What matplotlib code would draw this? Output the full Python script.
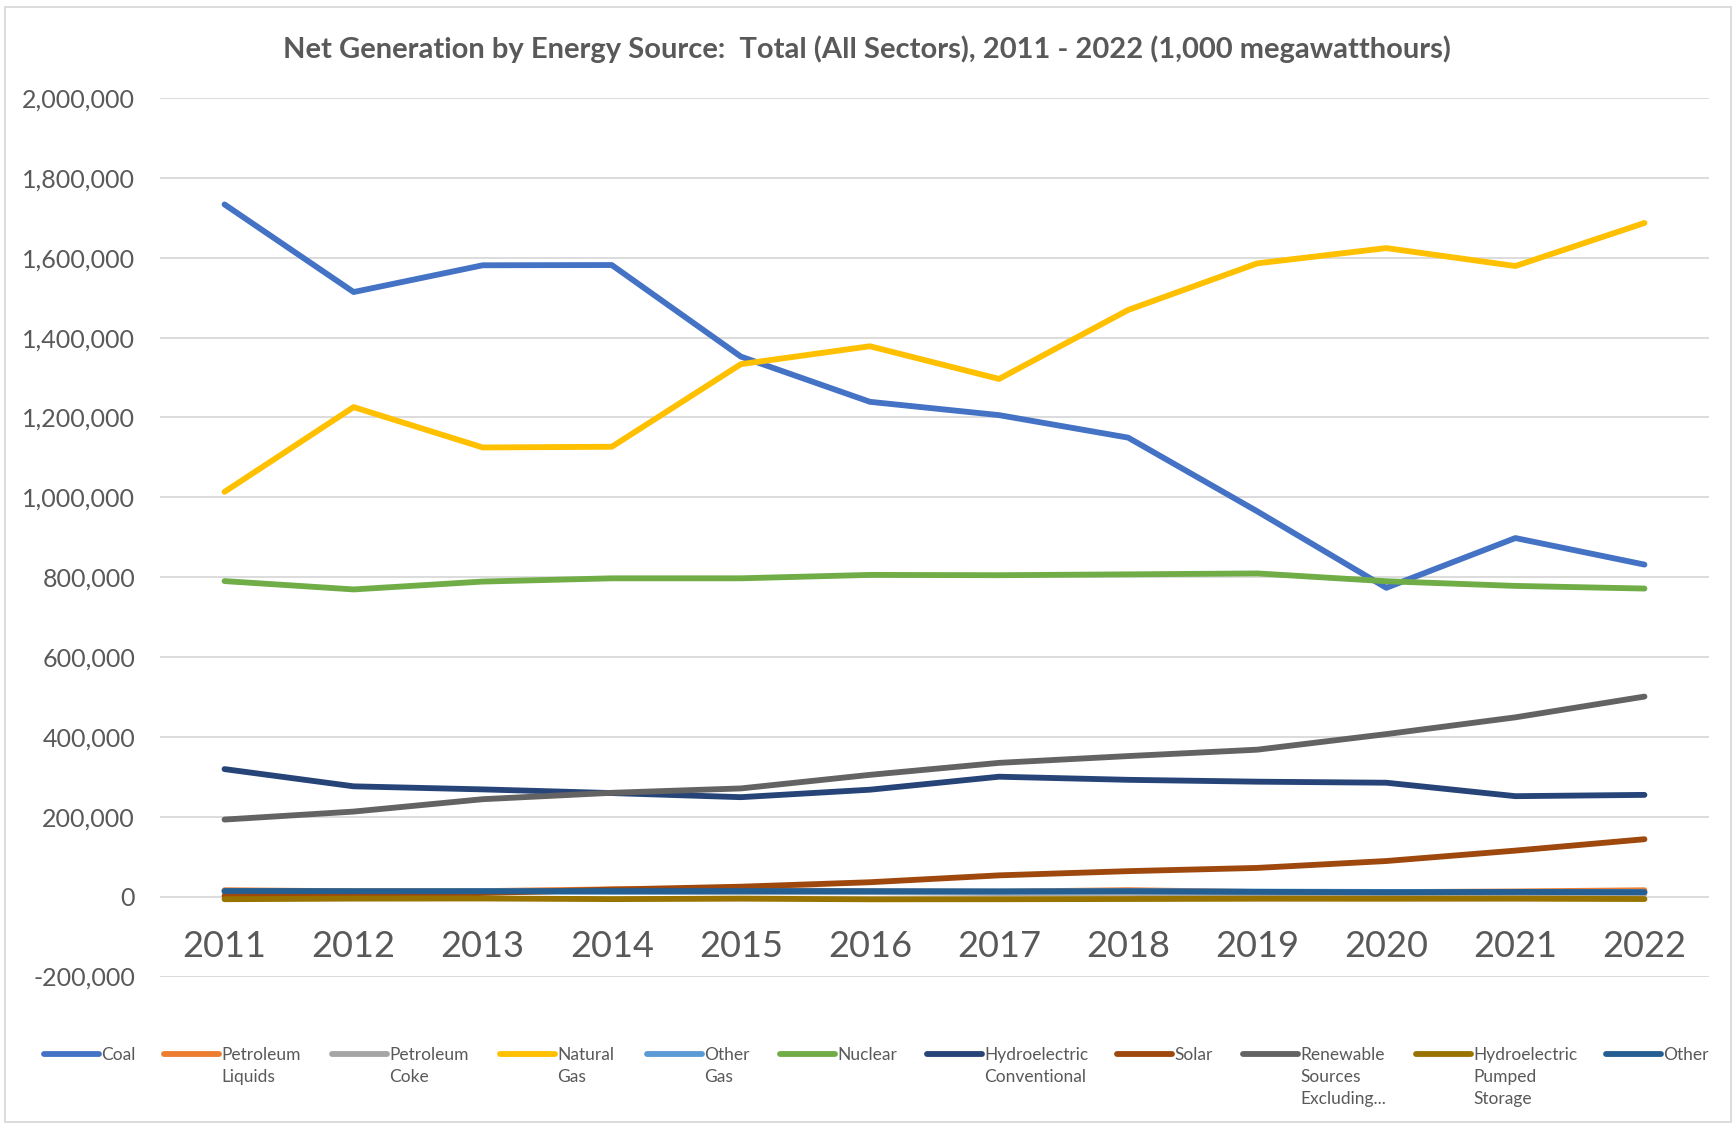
import matplotlib.pyplot as plt
from matplotlib.lines import Line2D
from matplotlib.patches import Rectangle

plt.rcParams['font.family'] = ['Lato', 'DejaVu Sans']

years = ['2011', '2012', '2013', '2014', '2015', '2016',
         '2017', '2018', '2019', '2020', '2021', '2022']

coal = [1733430, 1514043, 1581115, 1581710, 1352398, 1239149,
        1205835, 1149487, 964957, 773393, 897999, 831512]
petroleum_liquids = [16086, 13403, 13820, 18276, 17372, 13008,
                     12414, 16245, 11576, 11369, 12994, 15950]
petroleum_coke = [14096, 9787, 13344, 11955, 10877, 11197,
                  8976, 9145, 6826, 5914, 6089, 7000]
natural_gas = [1013689, 1225894, 1124836, 1126609, 1333482, 1378307,
               1296442, 1469133, 1585814, 1624157, 1579190, 1687067]
other_gas = [11566, 11898, 12853, 12022, 13117, 12807,
             12469, 13463, 12591, 11818, 11396, 11500]
nuclear = [790204, 769331, 789016, 797166, 797178, 805694,
           804950, 807084, 809409, 789879, 778152, 771537]
hydro_conventional = [319355, 276240, 268565, 259367, 249080, 267812,
                      300333, 292524, 287874, 285274, 251585, 254826]
solar = [1818, 4327, 9036, 17691, 24893, 36054,
         53287, 63825, 71937, 89199, 115258, 143797]
renewable_excl = [193000, 213000, 244000, 260000, 271000, 305000,
                  335000, 352000, 368000, 407000, 449000, 501000]
hydro_pumped = [-6421, -4950, -4681, -6174, -5091, -6686,
                -6495, -5905, -5261, -5321, -5112, -6000]
other = [14154, 13787, 13588, 14032, 14026, 13571,
         13054, 13550, 11966, 10966, 11780, 11000]

series_names = ['Coal', 'Petroleum\nLiquids', 'Petroleum\nCoke', 'Natural\nGas',
                'Other\nGas', 'Nuclear', 'Hydroelectric\nConventional', 'Solar',
                'Renewable\nSources\nExcluding...', 'Hydroelectric\nPumped\nStorage',
                'Other']
series_values = [coal, petroleum_liquids, petroleum_coke, natural_gas, other_gas,
                 nuclear, hydro_conventional, solar, renewable_excl, hydro_pumped, other]
colors = ['#4472C4', '#ED7D31', '#A5A5A5', '#FFC000', '#5B9BD5', '#70AD47',
          '#264478', '#9E480E', '#636363', '#997300', '#255E91']

W, H = 1734, 1124
fig = plt.figure(figsize=(W / 100, H / 100), dpi=100)
ax = fig.add_axes([160 / W, 1 - 976.5 / H, (1709 - 160) / W, (976.5 - 98) / H])

x = list(range(len(years)))
for vals, c in zip(series_values, colors):
    ax.plot(x, vals, color=c, lw=4.2, solid_capstyle='round', solid_joinstyle='round')

ax.set_xlim(-0.5, len(years) - 0.5)
ax.set_ylim(-200000, 2000000)
ax.set_yticks(range(-200000, 2000001, 200000))
ax.set_yticklabels([f'{v:,}' for v in range(-200000, 2000001, 200000)])
ax.yaxis.grid(True, color='#D9D9D9', lw=1.3)
ax.set_axisbelow(True)
for s in ax.spines.values():
    s.set_visible(False)
ax.spines['bottom'].set_position(('data', 0))
ax.set_xticks(x)
ax.set_xticklabels(years)
ax.tick_params(axis='x', length=0, pad=24, labelsize=26, labelcolor='#595959')
ax.tick_params(axis='y', length=0, pad=18, labelsize=18, labelcolor='#595959')

fig.text(0.5, 1 - 49 / H, 'Net Generation by Energy Source:  Total (All Sectors), 2011 - 2022 (1,000 megawatthours)',
         ha='center', va='center', fontsize=21, fontweight='bold', color='#595959')

# legend, drawn by hand so multi-line labels sit like Excel's
handle_x = [44, 164, 332, 500, 647, 780, 927, 1117, 1243, 1416, 1606]
row_y = 1 - 1054 / H
for hx, name, c in zip(handle_x, series_names, colors):
    fig.add_artist(Line2D([hx / W, (hx + 55) / W], [row_y, row_y], color=c, lw=4.2,
                          solid_capstyle='round', transform=fig.transFigure))
    fig.text((hx + 57) / W, row_y + 7 / H, name, ha='left', va='top', fontsize=12.5,
             color='#595959', linespacing=1.45)

fig.add_artist(Rectangle((5 / W, 2 / H), 1 - 8 / W, 1 - 9 / H, transform=fig.transFigure,
                         fill=False, edgecolor='#D9D9D9', lw=1.3))

fig.savefig('out.png', dpi=100)
